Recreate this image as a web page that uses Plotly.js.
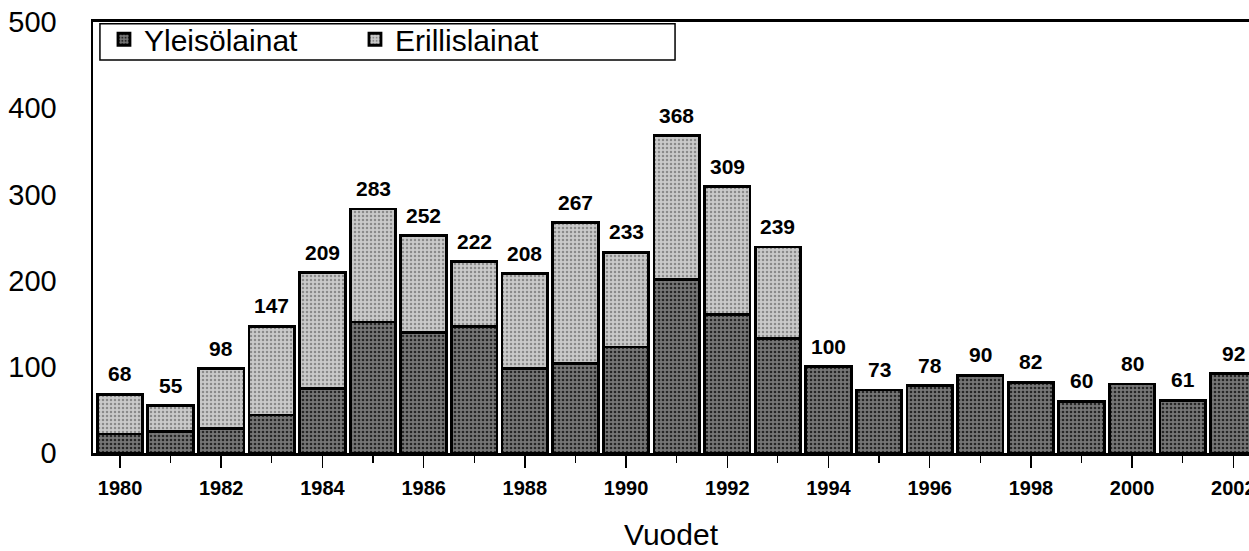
<!DOCTYPE html>
<html>
<head>
<meta charset="utf-8">
<script src="https://cdn.plot.ly/plotly-3.0.1.min.js"></script>
<style>html,body{margin:0;padding:0;background:#fff;}#chart{width:1249px;height:551px;}</style>
</head>
<body>
<div id="chart"></div>
<script>
const years = [1980,1981,1982,1983,1984,1985,1986,1987,1988,1989,1990,1991,1992,1993,1994,1995,1996,1997,1998,1999,2000,2001,2002];
const totals = [68,55,98,147,209,283,252,222,208,267,233,368,309,239,100,73,78,90,82,60,80,61,92];
const yleisolainat = [22,25,28,44,75,152,140,147,98,104,123,201,161,133,100,73,78,90,82,60,80,61,92];
const erillislainat = [46,30,70,103,134,131,112,75,110,163,110,167,148,106,0,0,0,0,0,0,0,0,0];
const tickYears = [1980,1982,1984,1986,1988,1990,1992,1994,1996,1998,2000,2002];
const seriesNames = ['Yleisölainat','Erillislainat'];
const xTitle = 'Vuodet';

const FONT = 'Arial, Liberation Sans, sans-serif';

const traces = [
  {
    type:'bar', x: years, y: yleisolainat, name: seriesNames[0], width: 0.9,
    marker:{color:'#6a6a6a', line:{color:'#000', width:2.8},
      pattern:{shape:'.', fgcolor:'#262626', bgcolor:'#767676', size:4, solidity:0.35}},
    hoverinfo:'skip'
  },
  {
    type:'bar', x: years, y: erillislainat, name: seriesNames[1], width: 0.9,
    marker:{color:'#c0c0c0', line:{color:'#000', width:2.8},
      pattern:{shape:'.', fgcolor:'#8a8a8a', bgcolor:'#cacaca', size:4, solidity:0.3}},
    hoverinfo:'skip'
  }
];

const annotations = years.map((yr,i)=>({
  x: yr, y: totals[i], text: String(totals[i]), xref:'x', yref:'y',
  showarrow:false, yanchor:'bottom', yshift:7,
  font:{family:FONT, size:21, color:'#000', weight:'bold'}
}));

const layout = {
  width:1249, height:551,
  margin:{l:93, r:0, t:22, b:98, pad:0},
  paper_bgcolor:'#fff', plot_bgcolor:'#fff',
  barmode:'stack', bargap:0.1,
  showlegend:true,
  legend:{orientation:'h', x:0.0095, y:0.96, xanchor:'left', yanchor:'middle',
    bgcolor:'rgba(0,0,0,0)', borderwidth:0,
    font:{family:FONT, size:30, color:'#000'},
    itemwidth:30, traceorder:'normal', entrywidth:206, tracegroupgap:0},
  shapes:[{type:'rect', xref:'paper', yref:'paper', x0:0.006, x1:0.5035, y0:0.912, y1:0.996,
    line:{color:'#000', width:1.5}, fillcolor:'#fff', layer:'below'}],
  xaxis:{
    range:[1979.466, 2002.31], tickmode:'array', tickvals:tickYears, ticktext:tickYears.map(String),
    ticks:'outside', ticklen:12, tickwidth:1.5, tickcolor:'#000',
    minor:{tickmode:'linear', dtick:1, tick0:1980, ticks:'outside', ticklen:7, tickwidth:1.2, tickcolor:'#000'},
    showline:true, linecolor:'#000', linewidth:3, mirror:true,
    showgrid:false, zeroline:false, ticklabelstandoff:3, ticklabeloverflow:'allow',
    tickfont:{family:FONT, size:20, color:'#000', weight:'bold'},
    title:{text:xTitle, font:{family:FONT, size:30, color:'#000'}, standoff:27}
  },
  yaxis:{
    range:[0,500], tickvals:[0,100,200,300,400,500], ticks:'',
    showline:true, linecolor:'#000', linewidth:2.5,
    showgrid:false, zeroline:false, ticklabelstandoff:28,
    tickfont:{family:FONT, size:29, color:'#000'}
  },
  annotations: annotations
};

Plotly.newPlot('chart', traces, layout, {displayModeBar:false, staticPlot:true});
</script>
</body>
</html>
